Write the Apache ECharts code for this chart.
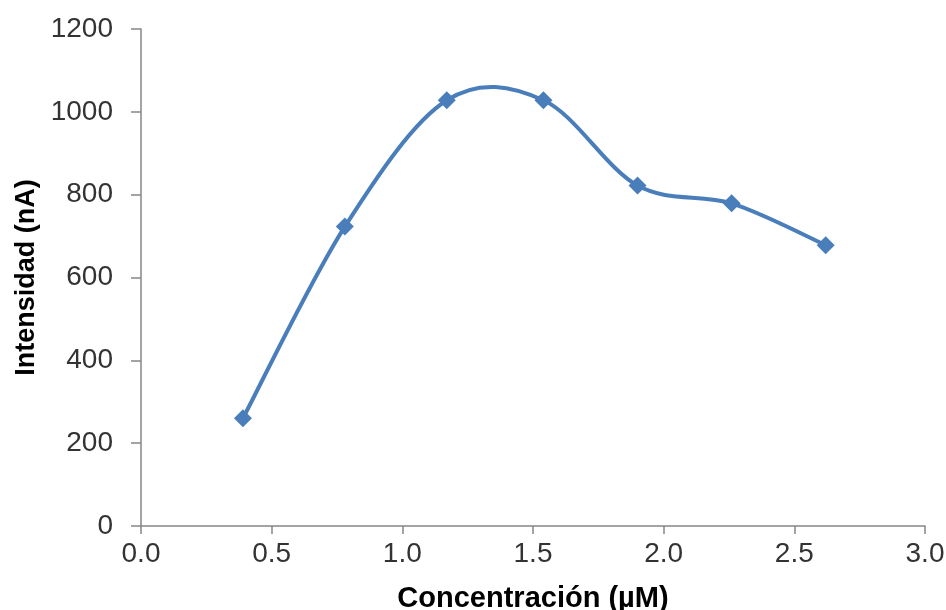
<!DOCTYPE html>
<html lang="es">
  <head>
    <meta charset="UTF-8" />
    <title>Intensidad vs Concentración</title>
    <script src="https://cdn.jsdelivr.net/npm/echarts@6/dist/echarts.min.js"></script>
    <style>
      html, body { margin: 0; padding: 0; background: #fff; }
      #chart { width: 946px; height: 610px; }
    </style>
  </head>
  <body>
    <div id="chart"></div>
    <script>
      // datos
      var concentracion = [0.39, 0.78, 1.17, 1.54, 1.9, 2.26, 2.62];
      var intensidad = [260, 723, 1028, 1028, 822, 779, 678];

      var xTicks = { min: 0, max: 3, interval: 0.5 };
      var yTicks = { min: 0, max: 1200, interval: 200 };

      var lineColor = '#4a7ebb';
      var labelFont = "'Liberation Sans', Arial, sans-serif";

      var chart = echarts.init(document.getElementById('chart'));

      var seriesData = [];
      for (var i = 0; i < concentracion.length; i++) {
        seriesData.push([concentracion[i], intensidad[i]]);
      }

      // curva suavizada tipo Excel (Catmull-Rom -> Bezier), puntos pasados por api.coord
      function renderCurve(params, api) {
        if (params.dataIndex !== 0) return null;
        var pts = [];
        for (var i = 0; i < seriesData.length; i++) {
          pts.push(api.coord(seriesData[i]));
        }
        var d = 'M' + pts[0][0] + ' ' + pts[0][1];
        for (var j = 0; j < pts.length - 1; j++) {
          var p0 = pts[Math.max(j - 1, 0)];
          var p1 = pts[j];
          var p2 = pts[j + 1];
          var p3 = pts[Math.min(j + 2, pts.length - 1)];
          var c1x = p1[0] + (p2[0] - p0[0]) / 6;
          var c1y = p1[1] + (p2[1] - p0[1]) / 6;
          var c2x = p2[0] - (p3[0] - p1[0]) / 6;
          var c2y = p2[1] - (p3[1] - p1[1]) / 6;
          d += ' C' + c1x + ' ' + c1y + ' ' + c2x + ' ' + c2y + ' ' + p2[0] + ' ' + p2[1];
        }
        return {
          type: 'path',
          shape: { pathData: d },
          style: { fill: 'none', stroke: lineColor, lineWidth: 4, lineCap: 'round', lineJoin: 'round' }
        };
      }

      chart.setOption({
        animation: false,
        grid: {
          left: 141,
          right: 21,
          top: 29,
          bottom: 84,
          outerBoundsMode: 'none'
        },
        xAxis: {
          type: 'value',
          min: xTicks.min,
          max: xTicks.max,
          interval: xTicks.interval,
          name: 'Concentración (µM)',
          nameLocation: 'middle',
          nameGap: 58,
          nameTextStyle: {
            color: '#000',
            fontSize: 29,
            fontWeight: 'bold',
            fontFamily: labelFont
          },
          splitLine: { show: false },
          axisLine: { lineStyle: { color: '#868686', width: 1.5 } },
          axisTick: { show: true, length: 8, lineStyle: { color: '#868686', width: 1.5 } },
          axisLabel: {
            color: '#333',
            fontSize: 28,
            fontFamily: labelFont,
            margin: 14,
            formatter: function (v) { return v.toFixed(1); }
          }
        },
        yAxis: {
          type: 'value',
          min: yTicks.min,
          max: yTicks.max,
          interval: yTicks.interval,
          name: 'Intensidad (nA)',
          nameLocation: 'middle',
          nameGap: 100,
          nameTextStyle: {
            color: '#000',
            fontSize: 27,
            fontWeight: 'bold',
            fontFamily: labelFont
          },
          splitLine: { show: false },
          axisLine: { show: true, lineStyle: { color: '#868686', width: 1.5 } },
          axisTick: { show: true, length: 10, lineStyle: { color: '#868686', width: 1.5 } },
          axisLabel: {
            color: '#333',
            fontSize: 28,
            fontFamily: labelFont,
            margin: 28,
            formatter: function (v) { return String(v); }
          }
        },
        series: [
          {
            type: 'custom',
            renderItem: renderCurve,
            data: seriesData,
            z: 2
          },
          {
            type: 'scatter',
            data: seriesData,
            symbol: 'diamond',
            symbolSize: 18,
            itemStyle: { color: lineColor, opacity: 1 },
            z: 3
          }
        ]
      });
    </script>
  </body>
</html>
